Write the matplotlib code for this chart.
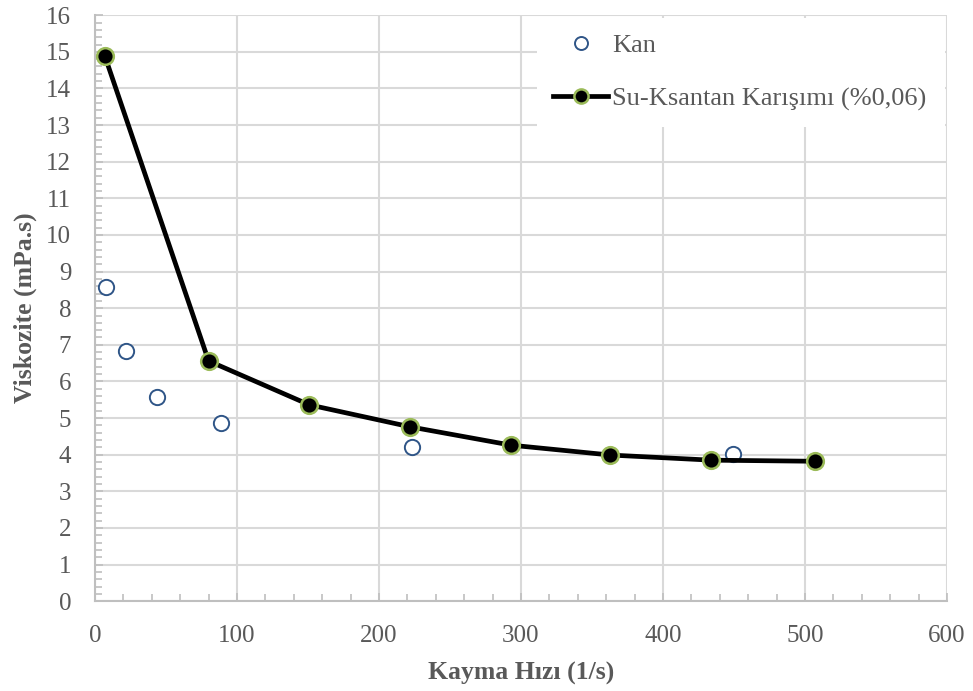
import matplotlib
matplotlib.use("Agg")
import matplotlib.pyplot as plt
from matplotlib.ticker import MultipleLocator

kan_x = [8, 22, 44, 89, 223, 449]
kan_y = [8.58, 6.82, 5.58, 4.87, 4.21, 4.01]

su_x = [7, 80, 151, 222, 293, 363, 434, 507]
su_y = [14.88, 6.56, 5.36, 4.76, 4.26, 3.99, 3.85, 3.82]

xlabel = "Kayma Hızı (1/s)"
ylabel = "Viskozite (mPa.s)"

plt.rcParams['font.family'] = ['Liberation Serif', 'DejaVu Serif']

fig = plt.figure(figsize=(9.73, 6.91), dpi=100)
ax = fig.add_axes([0.0976, 0.130, 0.8757, 0.848])

grid_c = '#d9d9d9'
spine_c = '#bfbfbf'
text_c = '#595959'

ax.set_xlim(0, 600)
ax.set_ylim(0, 16)
ax.xaxis.set_major_locator(MultipleLocator(100))
ax.xaxis.set_minor_locator(MultipleLocator(20))
ax.yaxis.set_major_locator(MultipleLocator(1))
ax.yaxis.set_minor_locator(MultipleLocator(0.2))
ax.grid(True, which='major', color=grid_c, linewidth=1.5, zorder=0)
ax.set_axisbelow(True)

for s in ['top', 'right']:
    ax.spines[s].set_visible(False)
for s in ['left', 'bottom']:
    ax.spines[s].set_color(spine_c)
    ax.spines[s].set_linewidth(1.5)

ax.tick_params(which='both', direction='in', color=spine_c, width=1.2)
ax.tick_params(which='major', length=6, labelsize=18, labelcolor=text_c)
ax.tick_params(axis='x', which='major', pad=17)
ax.tick_params(axis='y', which='major', pad=17)
ax.tick_params(which='minor', length=5)

ax.plot(kan_x, kan_y, linestyle='none', marker='o', markersize=11,
        markerfacecolor='white', markeredgecolor='#2f5587', markeredgewidth=1.4,
        label='Kan', zorder=3)
ax.plot(su_x, su_y, color='black', linewidth=3.4, marker='o', markersize=12,
        markerfacecolor='black', markeredgecolor='#9bbb59', markeredgewidth=1.8,
        label='Su-Ksantan Karışımı (%0,06)', zorder=4)

ax.set_xlabel(xlabel, fontsize=18.5, fontweight='bold', color=text_c, labelpad=11)
ax.set_ylabel(ylabel, fontsize=18.5, fontweight='bold', color=text_c, labelpad=7)

leg = ax.legend(loc='upper left', bbox_to_anchor=(0.519, 0.806, 0.479, 0.19),
                mode='expand', frameon=True, fontsize=19, labelspacing=1.15,
                handlelength=2.1, handletextpad=0.15, borderpad=0.6,
                borderaxespad=0, fancybox=False, markerscale=0.85)
leg.get_frame().set_facecolor('white')
leg.get_frame().set_edgecolor('none')
leg.get_frame().set_alpha(1)
for t in leg.get_texts():
    t.set_color(text_c)

fig.savefig('out.png', dpi=100)
